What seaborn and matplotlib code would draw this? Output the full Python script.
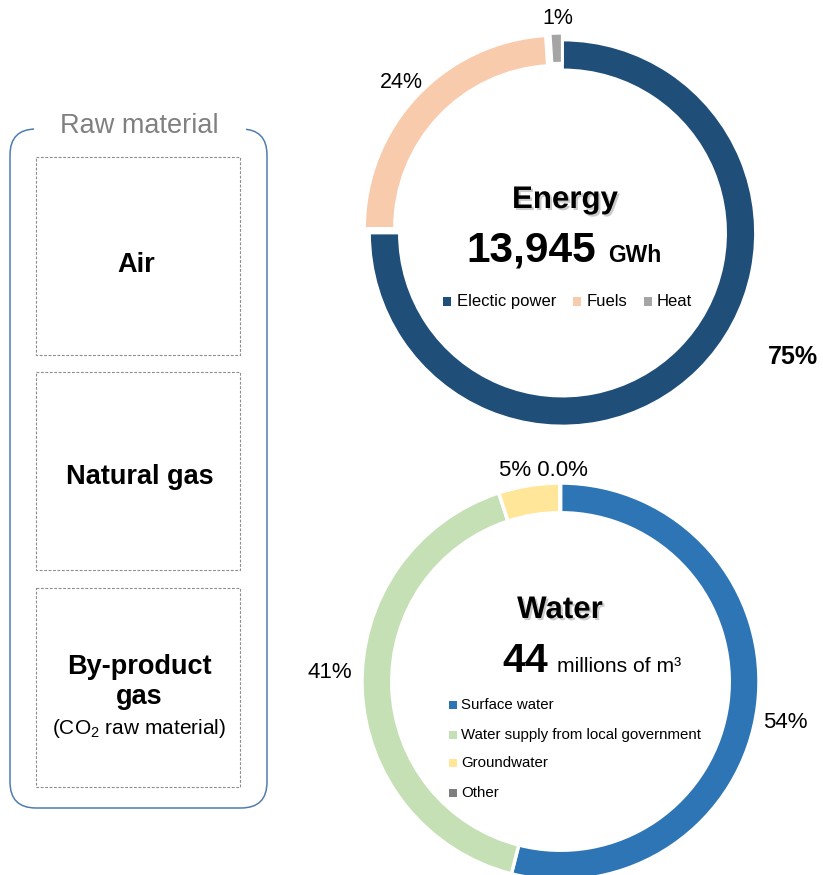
import matplotlib
matplotlib.use("Agg")
import matplotlib.pyplot as plt
import seaborn as sns
from matplotlib import patheffects as pe
from matplotlib.patches import FancyBboxPatch, Rectangle

# ---------------- data ----------------
energy_categories = ["Electic power", "Fuels", "Heat"]
energy_values = [75, 24, 1]
energy_labels = ["75%", "24%", "1%"]
energy_colors = ["#1F4E79", "#F8CBAD", "#A5A5A5"]
energy_total = "13,945"
energy_unit = "GWh"

water_categories = ["Surface water", "Water supply from local government", "Groundwater", "Other"]
water_values = [54, 41, 5, 0.04]
water_labels = ["54%", "41%", "5% 0.0%"]
water_colors = ["#2E75B6", "#C5E0B4", "#FFE699", "#7F7F7F"]
water_total = "44"
water_unit = "millions of m\u00b3"

raw_items = ["Air", "Natural gas", "By-product\ngas"]

# ---------------- style ----------------
sns.set_theme(style="white")
plt.rcParams["font.family"] = ["Liberation Sans", "DejaVu Sans"]
plt.rcParams["text.color"] = "black"
plt.rcParams["mathtext.fontset"] = "custom"
plt.rcParams["mathtext.rm"] = "Liberation Sans"
plt.rcParams["mathtext.it"] = "Liberation Sans:italic"

W, H = 823, 875
fig = plt.figure(figsize=(W / 100, H / 100), dpi=100)


def pie_axes(cx, cy, r, pad=1.15):
    ax = fig.add_axes([(cx - pad * r) / W, (H - cy - pad * r) / H,
                       2 * pad * r / W, 2 * pad * r / H])
    return ax, pad


# Energy donut
ax_e, pad = pie_axes(562.5, 233, 193)
ax_e.pie(energy_values, colors=energy_colors, startangle=90, counterclock=False,
         explode=[0, 0.035, 0.035],
         wedgeprops=dict(width=0.155, edgecolor="white", linewidth=2))
ax_e.set_xlim(-pad, pad)
ax_e.set_ylim(-pad, pad)
ax_e.axis("off")

# Water donut
ax_w, pad = pie_axes(560.5, 681.5, 198.5)
ax_w.pie(water_values, colors=water_colors, startangle=90, counterclock=False,
         wedgeprops=dict(width=0.15, edgecolor="white", linewidth=2.5))
ax_w.set_xlim(-pad, pad)
ax_w.set_ylim(-pad, pad)
ax_w.axis("off")

# Overlay in pixel coordinates
ov = fig.add_axes([0, 0, 1, 1])
ov.set_xlim(0, W)
ov.set_ylim(H, 0)
ov.axis("off")
ov.patch.set_alpha(0)

# Raw material panel
ov.add_patch(FancyBboxPatch((10, 129), 257, 679, boxstyle="round,pad=0,rounding_size=26",
                            fc="none", ec="#4F7DB0", lw=1.1))
ov.add_patch(Rectangle((34, 120), 212, 16, fc="white", ec="none", zorder=3))
ov.text(139, 126, "Raw material", ha="center", va="center", fontsize=19.5,
        color="#808080", zorder=4)

boxes_y = [(157, 355), (372, 570), (588, 787)]
for (y0, y1) in boxes_y:
    ov.add_patch(Rectangle((36, y0), 204, y1 - y0, fill=False, ec="#8C8C8C",
                           lw=0.8, ls=(0, (2.5, 1.5))))

ov.text(136, 265, raw_items[0], ha="center", va="center", fontsize=19.5, fontweight="bold")
ov.text(140, 477, raw_items[1], ha="center", va="center", fontsize=19.5, fontweight="bold")
ov.text(139, 682, raw_items[2], ha="center", va="center", fontsize=19.5, fontweight="bold",
        linespacing=1.25)
ov.text(139, 728, "(CO$_2$ raw material)", ha="center", va="center", fontsize=15)

shadow = [pe.withSimplePatchShadow(offset=(1.5, -1.5), shadow_rgbFace="#555555", alpha=0.3)]

# Energy center texts
ov.text(565, 208, "Energy", ha="center", va="baseline", fontsize=22.5, fontweight="bold",
        path_effects=shadow)
ov.text(596, 262, energy_total, ha="right", va="baseline", fontsize=30.5, fontweight="bold")
ov.text(608, 262, energy_unit, ha="left", va="baseline", fontsize=16.5, fontweight="bold")
leg_e = [(443, 457), (573, 587), (644, 657)]
for (mx, tx), lab, col in zip(leg_e, energy_categories, energy_colors):
    ov.add_patch(Rectangle((mx, 297), 8.5, 8.5, fc=col, ec="none"))
    ov.text(tx, 301.5, lab, ha="left", va="center", fontsize=12)

# Water center texts
ov.text(560, 618, "Water", ha="center", va="baseline", fontsize=22.5, fontweight="bold",
        path_effects=shadow)
ov.text(548, 672, water_total, ha="right", va="baseline", fontsize=29.5, fontweight="bold")
ov.text(557, 672, water_unit, ha="left", va="baseline", fontsize=15.2)
leg_w_y = [705, 735, 763, 793]
for yy, lab, col in zip(leg_w_y, water_categories, water_colors):
    ov.add_patch(Rectangle((449, yy - 4), 8, 8, fc=col, ec="none"))
    ov.text(461, yy, lab, ha="left", va="center", fontsize=10.8)

# Percent labels
ov.text(793, 357, energy_labels[0], ha="center", va="center", fontsize=18, fontweight="bold")
ov.text(401, 83, energy_labels[1], ha="center", va="center", fontsize=15.5)
ov.text(558, 18, energy_labels[2], ha="center", va="center", fontsize=15.5)
ov.text(785, 722, water_labels[0], ha="center", va="center", fontsize=16)
ov.text(330, 673, water_labels[1], ha="center", va="center", fontsize=16)
ov.text(543, 470, water_labels[2], ha="center", va="center", fontsize=16)

fig.savefig("out.png", dpi=100, facecolor="white")
